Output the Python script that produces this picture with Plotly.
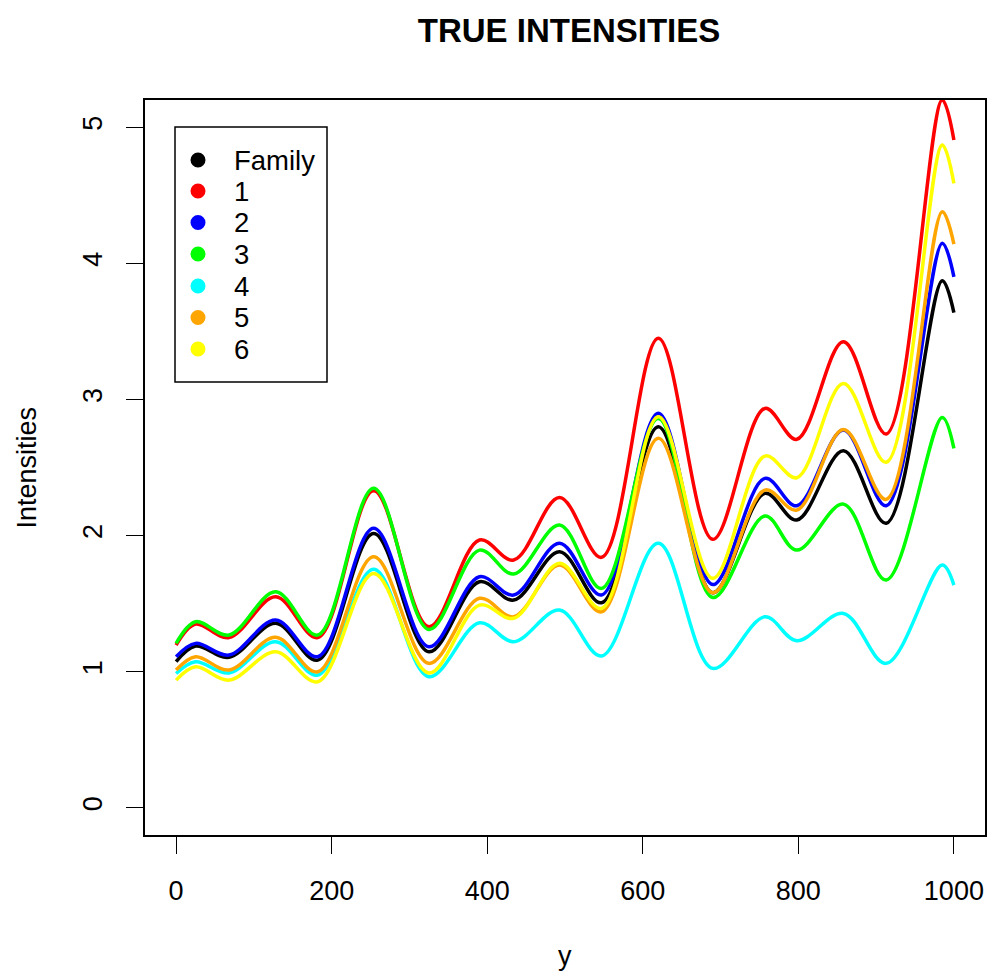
import plotly.graph_objects as go

# ---------------- data ----------------
x_vals = [0, 25, 68, 128, 182, 254, 325, 390, 434, 493, 547, 620, 690, 757, 798, 858, 913, 985, 1000]

family = [1.073, 1.188, 1.105, 1.355, 1.085, 2.016, 1.146, 1.661, 1.526, 1.881, 1.506, 2.800, 1.580, 2.310, 2.114, 2.623, 2.090, 3.872, 3.637]
s1 = [1.195, 1.350, 1.250, 1.550, 1.250, 2.330, 1.330, 1.967, 1.820, 2.280, 1.840, 3.450, 1.972, 2.934, 2.707, 3.424, 2.746, 5.200, 4.906]
s2 = [1.110, 1.208, 1.122, 1.379, 1.110, 2.053, 1.183, 1.697, 1.563, 1.943, 1.563, 2.898, 1.640, 2.420, 2.219, 2.775, 2.219, 4.147, 3.901]
s3 = [1.208, 1.367, 1.269, 1.587, 1.269, 2.347, 1.310, 1.893, 1.717, 2.077, 1.612, 2.860, 1.545, 2.143, 1.893, 2.231, 1.673, 2.868, 2.640]
s4 = [0.987, 1.073, 0.990, 1.220, 0.975, 1.752, 0.963, 1.359, 1.220, 1.453, 1.115, 1.943, 1.024, 1.403, 1.227, 1.428, 1.061, 1.783, 1.636]
s5 = [1.012, 1.110, 1.012, 1.252, 0.999, 1.844, 1.061, 1.539, 1.403, 1.783, 1.440, 2.714, 1.580, 2.334, 2.187, 2.780, 2.266, 4.379, 4.142]
s6 = [0.938, 1.036, 0.938, 1.146, 0.926, 1.722, 0.990, 1.489, 1.392, 1.796, 1.465, 2.873, 1.686, 2.584, 2.425, 3.118, 2.538, 4.869, 4.587]

series_names = ["Family", "1", "2", "3", "4", "5", "6"]
series_values = [family, s1, s2, s3, s4, s5, s6]
series_colors = ["#000000", "#FF0000", "#0000FF", "#00FF00", "#00FFFF", "#FFA500", "#FFFF00"]

x_ticks = [0, 200, 400, 600, 800, 1000]
y_ticks = [0, 1, 2, 3, 4, 5]

title_text = "TRUE INTENSITIES"
x_title = "y"
y_title = "Intensities"

# ---------------- figure ----------------
FONT = "Liberation Sans, Arial, Helvetica, sans-serif"
W, H = 990, 978
L, R, T, B = 145, 985, 100, 835


def pxx(px):
    return (px - L) / (R - L)


def pyy(py):
    return (B - py) / (B - T)


fig = go.Figure()
for name, ys, col in zip(series_names, series_values, series_colors):
    fig.add_trace(go.Scatter(
        x=x_vals, y=ys, mode="lines", name=name, showlegend=False,
        line=dict(color=col, width=3.5, shape="spline", smoothing=1.0),
        hoverinfo="x+y+name",
    ))

axis_common = dict(
    showgrid=False, zeroline=False, showline=True, mirror=True,
    linecolor="black", linewidth=1.5,
    ticks="outside", ticklen=17, tickwidth=1, tickcolor="black",
    tickfont=dict(family=FONT, size=27, color="black"),
)

fig.update_layout(
    width=W, height=H,
    margin=dict(l=L, r=W - R, t=T, b=H - B, autoexpand=False),
    paper_bgcolor="white", plot_bgcolor="white",
    showlegend=False,
    title=dict(
        text="<b>" + title_text + "</b>",
        x=pxx(569), xref="paper", xanchor="center",
        y=1 - 30 / H, yref="container", yanchor="middle",
        font=dict(family=FONT, size=33, color="black"),
    ),
    xaxis=dict(range=[-40, 1040], tickvals=x_ticks, ticklabelstandoff=14, **axis_common),
    yaxis=dict(range=[-0.2, 5.2], tickvals=y_ticks, tickangle=-90, ticklabelstandoff=13, **axis_common),
)

annotations = [
    dict(text=x_title, x=0.5, y=pyy(956), xref="paper", yref="paper",
         xanchor="center", yanchor="middle", showarrow=False,
         font=dict(family=FONT, size=27, color="black")),
    dict(text=y_title, x=pxx(26), y=0.5, xref="paper", yref="paper",
         xanchor="center", yanchor="middle", textangle=-90, showarrow=False,
         font=dict(family=FONT, size=27, color="black")),
]

shapes = [
    dict(type="rect", xref="paper", yref="paper",
         x0=pxx(175), x1=pxx(327), y0=pyy(382), y1=pyy(127),
         line=dict(color="black", width=1.5), fillcolor="white", layer="above"),
]

legend_y = [160, 191, 222.5, 254, 286, 317.5, 349]
for name, col, cy in zip(series_names, series_colors, legend_y):
    shapes.append(dict(
        type="circle", xref="paper", yref="paper",
        xsizemode="pixel", ysizemode="pixel",
        xanchor=pxx(198), yanchor=pyy(cy),
        x0=-7.5, x1=7.5, y0=-7.5, y1=7.5,
        fillcolor=col, line=dict(width=0), layer="above",
    ))
    annotations.append(dict(
        text=name, x=pxx(232), y=pyy(cy), xref="paper", yref="paper",
        xanchor="left", yanchor="middle", showarrow=False,
        font=dict(family=FONT, size=27.5, color="black"),
    ))

fig.update_layout(annotations=annotations, shapes=shapes)

fig.write_html("out.html")
